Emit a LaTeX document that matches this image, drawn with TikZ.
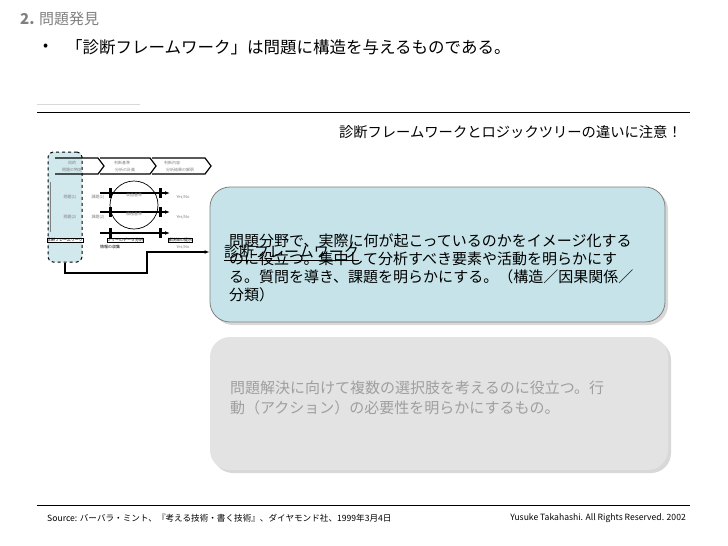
\documentclass[tikz,border=0pt]{standalone}
\usepackage{fontspec}
\setmainfont{Noto Sans CJK JP}
\usetikzlibrary{shadows,arrows.meta}
\definecolor{boxblue}{HTML}{C5E3E8}
\definecolor{boxgrey}{HTML}{E3E3E3}
\definecolor{ttl}{HTML}{808080}
\tikzset{
  txt/.style={inner sep=0pt,anchor=west},
  tiny/.style={inner sep=0pt,font=\fontsize{4}{4}\selectfont,text=gray},
  bar/.style={line width=3pt},
  arr/.style={-{Latex[length=5pt]},line width=1.3pt},
}
\begin{document}
\begin{tikzpicture}[x=1pt,y=-1pt]
\useasboundingbox (0,0) rectangle (728,546);
\fill[white] (0,0) rectangle (728,546);
% header
\node[txt,text=ttl,font=\fontsize{15}{15}\selectfont\bfseries] (title) at (20,19) {2. \mdseries 問題発見};
\node[txt,font=\fontsize{15}{15}\selectfont] (bul) at (43,47) {•};
\node[txt,font=\fontsize{16.5}{16.5}\selectfont] (head) at (66,47) {「診断フレームワーク」は問題に構造を与えるものである。};
\draw[gray!30,line width=1pt] (37,104) -- (140,104);
\draw[line width=0.8pt] (37,112) coordinate (l1) -- (690,112) coordinate (l2);
\node[inner sep=0pt,anchor=east,font=\fontsize{14.3}{14.3}\selectfont] (note) at (682,132) {診断フレームワークとロジックツリーの違いに注意！};
% small diagram
\node[draw,dashed,line width=1pt,fill=boxblue!80,rounded corners=5pt,minimum width=34pt,minimum height=110pt,inner sep=0pt] (fw) at (65,207) {};
\draw[line width=1.2pt] (55,158) -- (98,158) -- (104,166) -- (98,174) -- (55,174);
\draw[line width=1.2pt] (100,158) -- (150,158) -- (156,166) -- (150,174) -- (100,174);
\draw[line width=1.2pt] (152,158) -- (205,158) -- (211,166) -- (205,174) -- (152,174);
\node[tiny] (c1) at (72,163) {目的}; \node[tiny] (c1b) at (72,170) {問題の特定};
\node[tiny] (c2) at (122,163) {判断基準}; \node[tiny] (c2b) at (125,170) {分析の計画};
\node[tiny] (c3) at (172,163) {判断内容}; \node[tiny] (c3b) at (180,170) {分析結果の解釈};
\foreach \yy in {193,212,233}{\draw[arr] (100,\yy) -- (170,\yy);}
\foreach \xx in {110,160}{\draw[bar] (\xx,188) -- (\xx,198); \draw[bar] (\xx,207) -- (\xx,217); \draw[bar] (\xx,228) -- (\xx,238);}
\draw[line width=0.7pt] (134,205) ellipse (24pt and 24pt);
\node[tiny] (e1) at (134,195) {収益基準};
\node[tiny] (e2) at (134,214) {積極基準};
\node[tiny] (k1) at (98,197) {課題(1)}; \node[tiny] (k2) at (98,217) {課題(2)};
\node[tiny] (p1) at (70,197) {問題(1)}; \node[tiny] (p2) at (70,217) {問題(2)};
\node[tiny] (y1) at (183,197) {Yes/No}; \node[tiny] (y2) at (183,217) {Yes/No}; \node[tiny] (y3) at (183,247) {Yes/No};
\draw[gray,line width=0.5pt] (50,182) -- (50,232);
\node[draw,fill=white,inner sep=0.8pt,tiny,text=black] (b1) at (65,240) {診断フレームワーク};
\node[draw,fill=white,inner sep=0.8pt,tiny,text=black] (b2) at (125,240) {ツリーのデータ分析};
\node[draw,fill=white,inner sep=0.8pt,tiny,text=black] (b3) at (180,240) {解決策の提示};
\node[tiny,text=black] (b4) at (110,247) {情報の収集};
% blue box
\node[draw=gray,line width=0.8pt,fill=boxblue,rounded corners=20pt,minimum width=455pt,minimum height=135pt,drop shadow={shadow xshift=3pt,shadow yshift=-3pt,fill=gray!60}] (bb) at (437.5,254.5) {};
\draw[arr,line width=1.6pt] (fw.south) -- (65,273) -- (147,273) -- (147,252) -- (bb.west |- 0,252);
% blue box text
\begin{scope}[font=\fontsize{15}{15}\selectfont]
\node[txt] (t1) at (229,241) {問題分野で、実際に何が起こっているのかをイメージ化する};
\node[txt] (t2) at (229,259) {のに役立つ。集中して分析すべき要素や活動を明らかにす};
\node[txt] (t3) at (229,277) {る。質問を導き、課題を明らかにする。（構造／因果関係／};
\node[txt] (t4) at (229,295) {分類）};
\node[txt] (ov) at (224,253) {\underline{診断フレームワーク}};
\end{scope}
% grey box
\node[fill=boxgrey,rounded corners=20pt,minimum width=458pt,minimum height=133pt,drop shadow={shadow xshift=3pt,shadow yshift=-3pt,fill=gray!60}] (gb) at (439,403.5) {};
\node[txt,text=gray!75,font=\fontsize{15}{15}\selectfont] (g1) at (230,388) {問題解決に向けて複数の選択肢を考えるのに役立つ。行};
\node[txt,text=gray!75,font=\fontsize{15}{15}\selectfont] (g2) at (230,408) {動（アクション）の必要性を明らかにするもの。};
% footer
\draw[line width=0.8pt] (37,505) coordinate (f1) -- (690,505) coordinate (f2);
\node[txt,font=\fontsize{8.6}{8.6}\selectfont] (src) at (47,518) {Source: バーバラ・ミント、『考える技術・書く技術』、ダイヤモンド社、1999年3月4日};
\node[inner sep=0pt,anchor=east,font=\fontsize{8.6}{8.6}\selectfont] (copy) at (686,518) {Yusuke Takahashi. All Rights Reserved. 2002};
\end{tikzpicture}
\end{document}
